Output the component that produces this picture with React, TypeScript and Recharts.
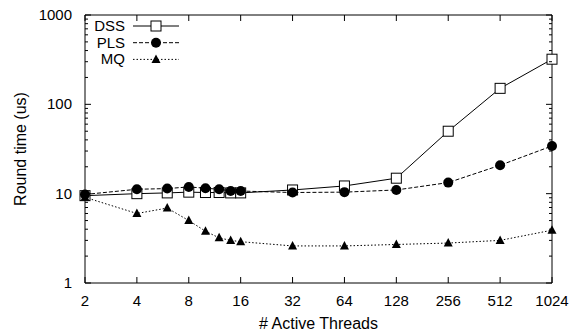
import React from "react";
import {
  LineChart,
  Line,
  XAxis,
  YAxis,
  Legend
} from "recharts";

// thread counts (x) and round times in us (y)
const threads = [2, 4, 6, 8, 10, 12, 14, 16, 32, 64, 128, 256, 512, 1024];
const dss = [9.5, 10.0, 10.2, 10.4, 10.3, 10.3, 10.2, 10.2, 11.0, 12.2, 14.9, 50, 151, 320];
const pls = [9.8, 11.2, 11.4, 11.9, 11.5, 11.2, 10.7, 10.7, 10.3, 10.4, 11.0, 13.3, 20.8, 34.2];
const mq = [9.1, 6.0, 6.9, 5.0, 3.8, 3.2, 3.0, 2.9, 2.6, 2.6, 2.7, 2.8, 3.0, 3.9];

const xTicks = [2, 4, 8, 16, 32, 64, 128, 256, 512, 1024];
const yMajor = [1, 10, 100, 1000];
const yTicks = [
  1, 2, 3, 4, 5, 6, 7, 8, 9,
  10, 20, 30, 40, 50, 60, 70, 80, 90,
  100, 200, 300, 400, 500, 600, 700, 800, 900,
  1000
];

const legendItems = [
  { name: "DSS", key: "dss", dash: undefined, marker: "square" },
  { name: "PLS", key: "pls", dash: "4 2", marker: "circle" },
  { name: "MQ", key: "mq", dash: "1.5 2", marker: "triangle" }
];

const data = threads.map((t, i) => ({
  threads: t,
  dss: dss[i],
  pls: pls[i],
  mq: mq[i]
}));

const font = "'Liberation Sans', Arial, Helvetica, sans-serif";

function Marker({ type, cx, cy }: { type: string; cx: number; cy: number }) {
  if (type === "square") {
    return <rect x={cx - 5} y={cy - 5} width={10} height={10} fill="#fff" stroke="#000" strokeWidth={1} />;
  }
  if (type === "circle") {
    return <circle cx={cx} cy={cy} r={5} fill="#000" />;
  }
  return <path d={`M${cx},${cy - 5}L${cx + 4.5},${cy + 3.5}L${cx - 4.5},${cy + 3.5}Z`} fill="#000" />;
}

const dotFor = (type: string) => (p: any) => {
  if (p.cx == null || p.cy == null) return <g key={p.key} />;
  return (
    <g key={p.key}>
      <Marker type={type} cx={p.cx} cy={p.cy} />
    </g>
  );
};

// bottom axis: inward tick + label
const BottomTick = (p: any) => (
  <g>
    <line x1={p.x} x2={p.x} y1={p.y} y2={p.y - 6} stroke="#000" />
    <text x={p.x} y={p.y + 23} textAnchor="middle" fontSize={15} fontFamily={font} fill="#000">
      {p.payload.value}
    </text>
  </g>
);

const TopTick = (p: any) => (
  <line x1={p.x} x2={p.x} y1={p.y} y2={p.y + 6} stroke="#000" />
);

const LeftTick = (p: any) => {
  const major = yMajor.includes(p.payload.value);
  return (
    <g>
      <line x1={p.x} x2={p.x + (major ? 6 : 3)} y1={p.y} y2={p.y} stroke="#000" />
      {major && (
        <text x={p.x - 13} y={p.y + 5} textAnchor="end" fontSize={15} fontFamily={font} fill="#000">
          {p.payload.value}
        </text>
      )}
    </g>
  );
};

const RightTick = (p: any) => {
  const major = yMajor.includes(p.payload.value);
  return <line x1={p.x} x2={p.x - (major ? 6 : 3)} y1={p.y} y2={p.y} stroke="#000" />;
};

const renderLegend = () => (
  <svg width={200} height={70} style={{ display: "block" }}>
    {legendItems.map((it, i) => {
      const y = 26 + i * 16.7;
      return (
        <g key={it.key}>
          <text x={125} y={y + 5} textAnchor="end" fontSize={15} fontFamily={font} fill="#000">
            {it.name}
          </text>
          <line x1={133} x2={179} y1={y} y2={y} stroke="#000" strokeDasharray={it.dash} />
          <Marker type={it.marker} cx={156} cy={y} />
        </g>
      );
    })}
  </svg>
);

export default function App() {
  return (
    <div style={{ position: "absolute", left: 0, top: 0, background: "#fff" }}>
      <LineChart width={575} height={331} data={data} margin={{ top: 0, right: 0, bottom: 0, left: 0 }}>
        <XAxis
          dataKey="threads"
          type="number"
          scale="log"
          domain={[2, 1024]}
          ticks={xTicks}
          interval={0}
          height={48}
          tickSize={0}
          tickMargin={0}
          tick={<BottomTick />}
          axisLine={{ stroke: "#000" }}
          label={{ value: "# Active Threads", position: "insideBottom", offset: 2, fontSize: 16, fontFamily: font, fill: "#000" }}
        />
        <XAxis
          xAxisId="top"
          orientation="top"
          dataKey="threads"
          type="number"
          scale="log"
          domain={[2, 1024]}
          ticks={xTicks}
          interval={0}
          height={15}
          tickSize={0}
          tickMargin={0}
          tick={<TopTick />}
          axisLine={{ stroke: "#000" }}
        />
        <YAxis
          type="number"
          scale="log"
          domain={[1, 1000]}
          ticks={yTicks}
          interval={0}
          width={85}
          tickSize={0}
          tickMargin={0}
          tick={<LeftTick />}
          axisLine={{ stroke: "#000" }}
          allowDataOverflow
          label={{ value: "Round time (us)", angle: -90, position: "insideLeft", offset: 20, style: { textAnchor: "middle" }, fontSize: 16, fontFamily: font, fill: "#000" }}
        />
        <YAxis
          yAxisId="right"
          orientation="right"
          type="number"
          scale="log"
          domain={[1, 1000]}
          ticks={yTicks}
          interval={0}
          width={23}
          tickSize={0}
          tickMargin={0}
          tick={<RightTick />}
          axisLine={{ stroke: "#000" }}
          allowDataOverflow
        />
        <Legend
          layout="vertical"
          align="center"
          verticalAlign="middle"
          content={renderLegend}
          wrapperStyle={{ top: 0, left: 0, width: 200, height: 70 }}
        />
        <Line dataKey="dss" stroke="#000" strokeWidth={1} dot={dotFor("square")} isAnimationActive={false} />
        <Line dataKey="pls" stroke="#000" strokeWidth={1} strokeDasharray="4 2" dot={dotFor("circle")} isAnimationActive={false} />
        <Line dataKey="mq" stroke="#000" strokeWidth={1} strokeDasharray="1.5 2" dot={dotFor("triangle")} isAnimationActive={false} />
      </LineChart>
    </div>
  );
}
